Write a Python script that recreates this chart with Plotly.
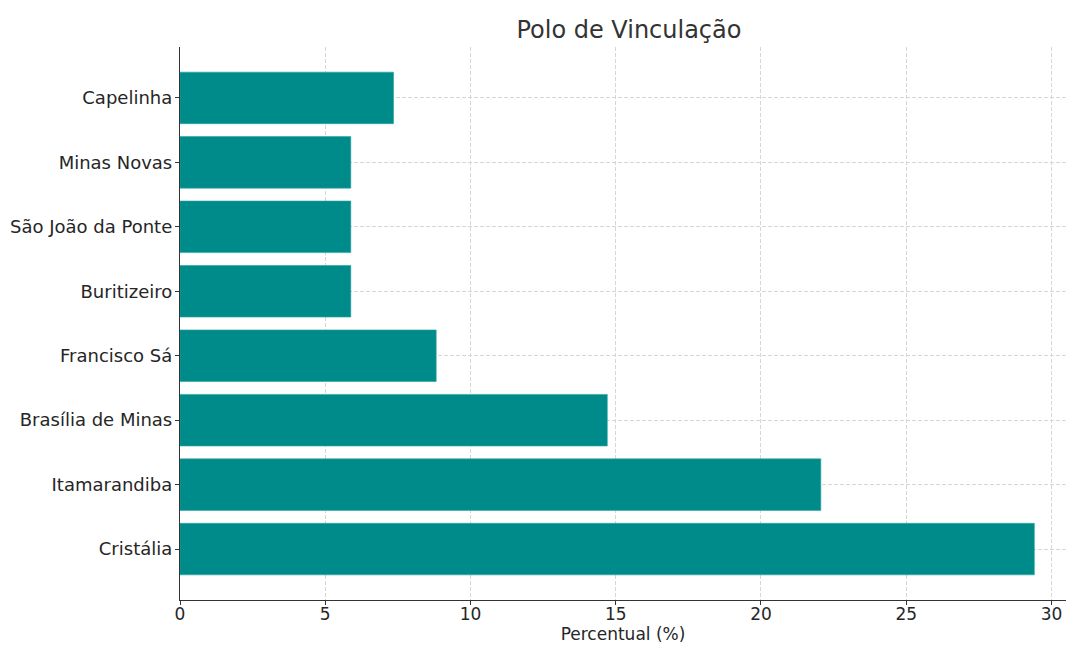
import plotly.graph_objects as go

categories = ["Cristália", "Itamarandiba", "Brasília de Minas", "Francisco Sá",
              "Buritizeiro", "São João da Ponte", "Minas Novas", "Capelinha"]
percent = [29.41, 22.06, 14.71, 8.82, 5.88, 5.88, 5.88, 7.35]
x_ticks = [0, 5, 10, 15, 20, 25, 30]

fig = go.Figure(go.Bar(
    y=categories, x=percent, orientation="h",
    marker=dict(color="#008B8B", line=dict(color="#2aa3a3", width=0.6)),
    width=0.8,
))

font = "DejaVu Sans, sans-serif"
fig.update_layout(
    width=1066, height=645,
    margin=dict(l=180, r=0, t=47, b=45),
    paper_bgcolor="white", plot_bgcolor="white",
    font=dict(family=font, size=18, color="#262626"),
    title=dict(text="Polo de Vinculação", x=0.590, xanchor="center",
               y=0.9535, yanchor="middle", font=dict(size=24, color="#333333")),
    showlegend=False,
)
fig.update_xaxes(
    range=[0, 30.5], tickvals=x_ticks, ticks="outside", ticklen=4,
    tickcolor="#333333", showline=True, linecolor="#333333", linewidth=1.3,
    showgrid=True, gridcolor="#d6d6d6", griddash="4px,2px", gridwidth=1,
    zeroline=False, tickfont=dict(size=17), ticklabelstandoff=-6,
    title=dict(text="Percentual (%)", standoff=5, font=dict(size=17)),
)
fig.update_yaxes(
    range=[-0.79, 7.79], ticks="outside", ticklen=4, tickcolor="#333333",
    showline=True, linecolor="#333333", linewidth=1.3,
    showgrid=True, gridcolor="#d6d6d6", griddash="4px,2px", gridwidth=1,
    tickfont=dict(size=18), ticklabelstandoff=-1,
)

# drop the default body margin so the figure fills the window exactly
fig.write_html("out.html", config={"displayModeBar": False},
               post_script="document.body.style.margin='0';")
